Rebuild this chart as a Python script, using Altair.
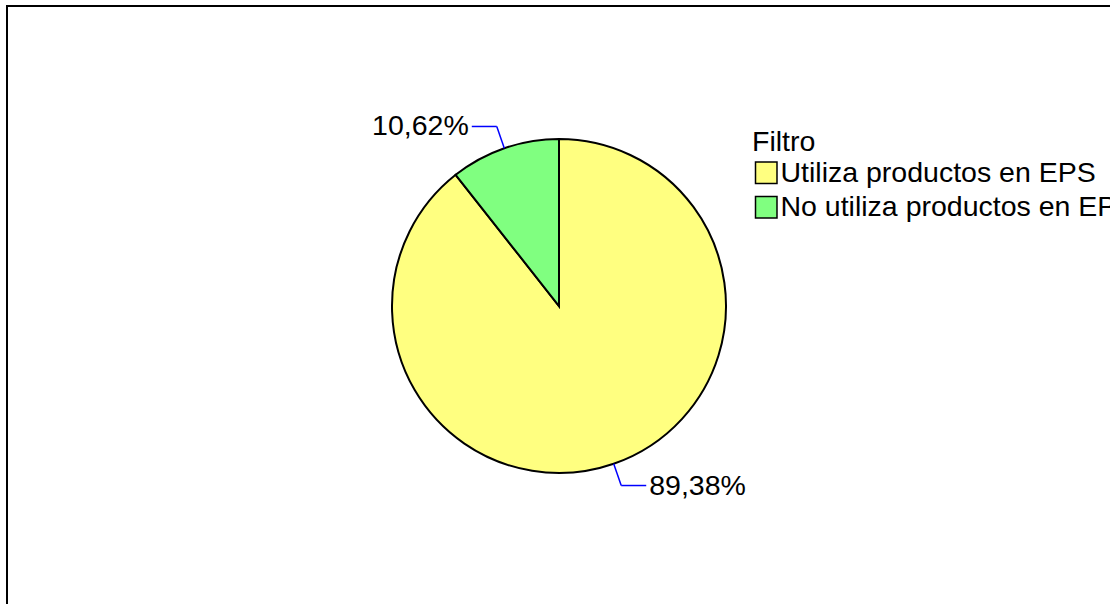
import altair as alt
import pandas as pd

categories = ["Utiliza productos en EPS", "No utiliza productos en EPS"]
shares = [89.38, 10.62]
labels = ["89,38%", "10,62%"]
colors = ["#FFFF80", "#80FF80"]
order = [0, 1]

df = pd.DataFrame({"Filtro": categories, "share": shares, "label": labels, "order": order})

W, H = 1110, 604
CX, CY, R = 559, 306, 167
R_OUT = 190
ELBOW = 25
FONT = "Liberation Sans"
FS = 28.5

base = alt.Chart(df)

pie = base.mark_arc(stroke="black", strokeWidth=2, outerRadius=R).encode(
    theta=alt.Theta("share:Q", stack=True),
    order=alt.Order("order:Q"),
    color=alt.Color(
        "Filtro:N",
        scale=alt.Scale(domain=categories, range=colors),
        sort=categories,
        legend=alt.Legend(
            title="Filtro",
            orient="none",
            legendX=752,
            legendY=128,
            titleFont=FONT,
            titleFontSize=FS,
            titleFontWeight="normal",
            titleColor="black",
            titlePadding=2,
            labelFont=FONT,
            labelFontSize=FS,
            labelColor="black",
            labelLimit=1000,
            labelOffset=0,
            symbolType="square",
            symbolSize=462,
            symbolStrokeColor="black",
            symbolStrokeWidth=1.5,
            symbolOpacity=1,
            rowPadding=5.5,
        ),
    ),
    x=alt.value(CX),
    y=alt.value(CY),
)

geo = base.transform_window(
    cum="sum(share)", sort=[alt.SortField("order")], frame=[None, 0]
).transform_joinaggregate(total="sum(share)").transform_calculate(
    mid="2*PI*(datum.cum - datum.share/2)/datum.total"
).transform_calculate(
    x0=f"{CX} + {R}*sin(datum.mid)",
    y0=f"{CY} - {R}*cos(datum.mid)",
    x1=f"{CX} + {R_OUT}*sin(datum.mid)",
    y1=f"{CY} - {R_OUT}*cos(datum.mid)",
    side="sin(datum.mid) >= 0 ? 1 : -1",
).transform_calculate(
    x2=f"datum.x1 + datum.side*{ELBOW}",
).transform_calculate(
    xt="datum.x2 + datum.side*3",
)

leader1 = geo.mark_rule(color="#0000FF", strokeWidth=1.5).encode(
    x=alt.X("x0:Q", scale=None), y=alt.Y("y0:Q", scale=None),
    x2="x1:Q", y2="y1:Q",
)
leader2 = geo.mark_rule(color="#0000FF", strokeWidth=1.5).encode(
    x=alt.X("x1:Q", scale=None), y=alt.Y("y1:Q", scale=None),
    x2="x2:Q", y2="y1:Q",
)
text_r = geo.transform_filter("datum.side > 0").mark_text(
    align="left", baseline="middle", font=FONT, fontSize=FS, color="black"
).encode(x=alt.X("xt:Q", scale=None), y=alt.Y("y1:Q", scale=None), text="label:N")
text_l = geo.transform_filter("datum.side < 0").mark_text(
    align="right", baseline="middle", font=FONT, fontSize=FS, color="black"
).encode(x=alt.X("xt:Q", scale=None), y=alt.Y("y1:Q", scale=None), text="label:N")

border = alt.Chart(pd.DataFrame({"a": [0]})).mark_rect(
    fill=None, fillOpacity=0, stroke="black", strokeWidth=2
).encode(x=alt.value(7), x2=alt.value(1400), y=alt.value(6), y2=alt.value(900))

chart = alt.layer(border, pie, leader1, leader2, text_r, text_l).properties(
    width=W, height=H, padding=0, autosize=alt.AutoSizeParams(type="none"),
    background="white",
).configure_view(stroke=None)

chart.save("out.html", embed_options={"renderer": "svg", "actions": False})
